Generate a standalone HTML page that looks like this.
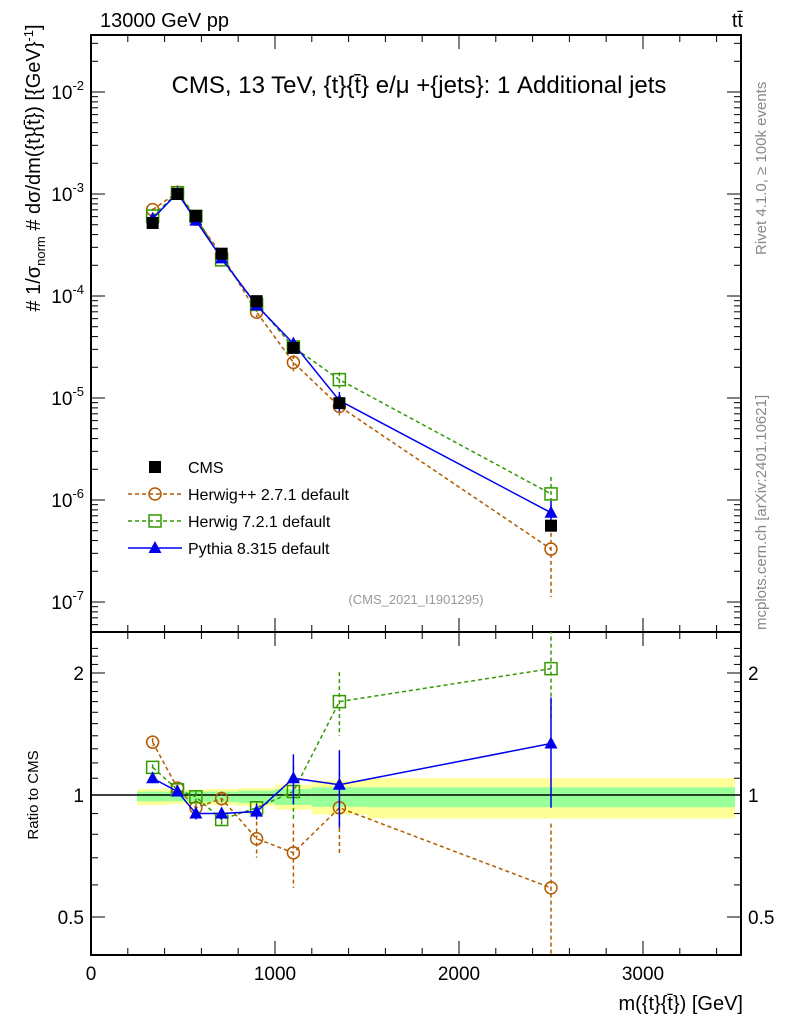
<!DOCTYPE html>
<html><head><meta charset="utf-8"><style>
body{margin:0;background:#fff;}
svg{font-family:"Liberation Sans",sans-serif;}
</style></head><body>
<svg id="c" width="786" height="1024" viewBox="0 0 786 1024" xmlns="http://www.w3.org/2000/svg">
<text x="100" y="27" font-size="20">13000 GeV pp</text>
<text x="743" y="27" font-size="20" text-anchor="end">tt̄</text>
<text x="419" y="93" font-size="24" text-anchor="middle">CMS, 13 TeV, {t}{t̄} e/μ +{jets}: 1 Additional jets</text>
<text x="416" y="604" font-size="13" fill="#999" text-anchor="middle">(CMS_2021_I1901295)</text>
<text transform="translate(766,255) rotate(-90)" font-size="15" fill="#888">Rivet 4.1.0, ≥ 100k events</text>
<text transform="translate(766,630) rotate(-90)" font-size="15" fill="#888">mcplots.cern.ch [arXiv:2401.10621]</text>
<text transform="translate(40,168) rotate(-90)" font-size="20" text-anchor="middle"># 1/σ<tspan font-size="13" dy="5">norm</tspan><tspan dy="-5"> # dσ/dm({t}{t̄}) [{GeV}</tspan><tspan font-size="13" dy="-7">-1</tspan><tspan dy="7">]</tspan></text>
<text transform="translate(38,795) rotate(-90)" font-size="15" text-anchor="middle">Ratio to CMS</text>
<text x="743" y="1010" font-size="20" text-anchor="end">m({t}{t̄}) [GeV]</text>
<g id="g"></g>
</svg>
<script>
const binEdges=[250,420,520,620,800,1000,1200,1500,3500];
const xVals=[335,470,570,710,900,1100,1350,2500];
const cmsVals=[5.2e-4,1.0e-3,6.1e-4,2.6e-4,8.9e-5,3.1e-5,8.9e-6,5.6e-7];
const hppRatio=[1.35,1.04,0.93,0.98,0.78,0.72,0.93,0.59];
const hppHi=[1.38,1.06,0.95,1.02,0.86,0.85,1.14,0.85];
const hppLo=[1.32,1.02,0.91,0.94,0.70,0.59,0.71,0.2];
const h7Ratio=[1.17,1.03,0.99,0.87,0.93,1.02,1.70,2.05];
const h7Hi=[1.19,1.05,1.02,0.90,0.96,1.18,2.01,3.0];
const h7Lo=[1.15,1.01,0.96,0.84,0.90,0.86,1.40,1.53];
const pyRatio=[1.10,1.02,0.90,0.90,0.91,1.10,1.06,1.34];
const pyHi=[1.13,1.04,0.93,0.93,0.95,1.26,1.29,1.74];
const pyLo=[1.07,1.00,0.87,0.87,0.87,0.95,0.83,0.93];
const bandYellowUp=[1.035,1.03,1.03,1.035,1.04,1.06,1.085,1.10];
const bandYellowDn=[0.945,0.95,0.95,0.945,0.94,0.92,0.895,0.875];
const bandGreenUp=[1.02,1.02,1.02,1.02,1.025,1.035,1.045,1.045];
const bandGreenDn=[0.965,0.965,0.965,0.96,0.955,0.945,0.935,0.933];
const xTicks=[0,1000,2000,3000];
const yExps=[-2,-3,-4,-5,-6,-7];
const rTicks=[0.5,1,2];

const L=91,R=741,T=35,MB=632,RB=955;
const X=v=>L+v*0.184;
const Y=v=>194-(Math.log10(v)+3)*102;
const YR=v=>795-Math.log2(v)*122;
const g=document.getElementById('g');
const NS='http://www.w3.org/2000/svg';
function el(t,a,p){const e=document.createElementNS(NS,t);for(const k in a)e.setAttribute(k,a[k]);(p||g).appendChild(e);return e;}

for(let i=0;i<bandYellowUp.length;i++){
 const e1=el('rect',{x:X(binEdges[i]),width:X(binEdges[i+1])-X(binEdges[i]),y:YR(bandYellowUp[i]),height:YR(bandYellowDn[i])-YR(bandYellowUp[i]),fill:'#ffff99'});
 
 
 const e2=el('rect',{x:X(binEdges[i]),width:X(binEdges[i+1])-X(binEdges[i]),y:YR(bandGreenUp[i]),height:YR(bandGreenDn[i])-YR(bandGreenUp[i]),fill:'#99ff99'});
 
 
}
el('line',{x1:L,x2:R,y1:YR(1),y2:YR(1),stroke:'#000','stroke-width':1.5});

const f1=el('rect',{x:L,y:T,width:R-L,height:MB-T,fill:'none',stroke:'#000','stroke-width':2});


const f2=el('rect',{x:L,y:MB,width:R-L,height:RB-MB,fill:'none',stroke:'#000','stroke-width':2});



for(let v=0;v<=3500;v+=200){
 const big=v%1000===0,len=big?14:7;
 [[MB,-1],[T,1],[RB,-1],[MB,1]].forEach(([y0,d])=>el('line',{x1:X(v),x2:X(v),y1:y0,y2:y0+d*len,stroke:'#000'}));
}
xTicks.forEach(v=>{const t=el('text',{x:X(v),y:980,'font-size':19,'text-anchor':'middle'});t.textContent=v;
 
 });
for(let e=-8;e<=-1;e++){
 for(let m=1;m<10;m++){const v=m*Math.pow(10,e);const y=Y(v);if(y<T||y>MB)continue;const len=m===1?14:7;
  el('line',{x1:L,x2:L+len,y1:y,y2:y,stroke:'#000'});el('line',{x1:R,x2:R-len,y1:y,y2:y,stroke:'#000'});}
}
yExps.forEach(e=>{const t=el('text',{x:84,y:Y(Math.pow(10,e))+7,'font-size':19,'text-anchor':'end'});
 t.innerHTML='10<tspan font-size="13" dy="-9">'+e+'</tspan>';
 
 });
for(let v=0.4;v<=2.4;v+=0.1){const y=YR(v);if(y<MB||y>RB)continue;const big=[0.5,1,2].some(b=>Math.abs(b-v)<1e-6);const len=big?14:7;
 el('line',{x1:L,x2:L+len,y1:y,y2:y,stroke:'#000'});el('line',{x1:R,x2:R-len,y1:y,y2:y,stroke:'#000'});}
rTicks.forEach(v=>{[[84,'end'],[748,'start']].forEach(([x,a])=>{const t=el('text',{x:x,y:YR(v)+7,'font-size':19,'text-anchor':a});t.textContent=v;
 
 });});

function marker(type,x,y,col,name){
 let e;
 if(type==='circ')e=el('circle',{cx:x,cy:y,r:6,fill:'none',stroke:col,'stroke-width':1.5});
 else if(type==='sq')e=el('rect',{x:x-6,y:y-6,width:12,height:12,fill:'none',stroke:col,'stroke-width':1.5});
 else if(type==='tri')e=el('polygon',{points:`${x},${y-7} ${x-6.5},${y+5} ${x+6.5},${y+5}`,fill:col});
 else e=el('rect',{x:x-6,y:y-6,width:12,height:12,fill:col});
 
 
}
function series(ratio,hi,lo,col,dash,type,name){
 const cl=el('clipPath',{id:'cm'+name});el('rect',{x:L,y:T,width:R-L,height:MB-T},cl);
 const cr=el('clipPath',{id:'cr'+name});el('rect',{x:L,y:MB,width:R-L,height:RB-MB},cr);
 const pm=xVals.map((x,i)=>X(x)+','+Y(cmsVals[i]*ratio[i])).join(' ');
 const pr=xVals.map((x,i)=>X(x)+','+YR(ratio[i])).join(' ');
 const l1=el('polyline',{points:pm,fill:'none',stroke:col,'stroke-width':1.5,'stroke-dasharray':dash});
 
 
 const l2=el('polyline',{points:pr,fill:'none',stroke:col,'stroke-width':1.5,'stroke-dasharray':dash,'clip-path':`url(#cr${name})`});
 
 
 xVals.forEach((x,i)=>{
  const r=ratio[i],v=cmsVals[i]*r;
  el('line',{x1:X(x),x2:X(x),y1:Y(cmsVals[i]*hi[i]),y2:Y(cmsVals[i]*lo[i]),stroke:col,'stroke-width':1.5,'stroke-dasharray':dash,'clip-path':`url(#cm${name})`});
  el('line',{x1:X(x),x2:X(x),y1:YR(hi[i]),y2:YR(lo[i]),stroke:col,'stroke-width':1.5,'stroke-dasharray':dash,'clip-path':`url(#cr${name})`});
  marker(type,X(x),Y(v),col,name+'-point');
  if(YR(r)>MB)marker(type,X(x),YR(r),col,name+'-ratio-point');
 });
}
series(hppRatio,hppHi,hppLo,'#b35900','4,3','circ','herwigpp');
series(h7Ratio,h7Hi,h7Lo,'#339900','4,3','sq','herwig7');
series(pyRatio,pyHi,pyLo,'#0000ee','','tri','pythia');
xVals.forEach((x,i)=>marker('cms',X(x),Y(cmsVals[i]),'#000','cms-point'));

const leg=[['cms','#000','','CMS'],['circ','#b35900','4,3','Herwig++ 2.7.1 default'],['sq','#339900','4,3','Herwig 7.2.1 default'],['tri','#0000ee','','Pythia 8.315 default']];
leg.forEach((l,i)=>{const y=467+i*27;
 if(i>0)el('line',{x1:128,x2:182,y1:y,y2:y,stroke:l[1],'stroke-width':1.5,'stroke-dasharray':l[2]});
 marker(l[0],155,y,l[1],'legend-marker');
 const t=el('text',{x:188,y:y+6,'font-size':16});t.textContent=l[3];
 
 });
</script>
</body></html>
